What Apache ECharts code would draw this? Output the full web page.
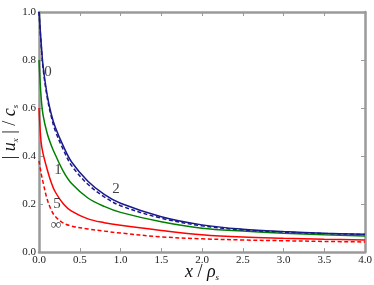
<!DOCTYPE html>
<html><head><meta charset="utf-8">
<script src="https://cdn.jsdelivr.net/npm/echarts@6/dist/echarts.min.js"></script>
<style>html,body{margin:0;padding:0;background:#fff}#c{width:374px;height:285px}</style>
</head><body><div id="c"></div>
<script>
const xs = [0, 0.025, 0.05, 0.1, 0.15, 0.2, 0.3, 0.4, 0.6, 0.8, 1.0, 1.5, 2.0, 2.5, 3.0, 3.5, 4.0];
const curve0 = [1.0, 0.88, 0.775, 0.655, 0.575, 0.52, 0.44, 0.375, 0.295, 0.24, 0.203, 0.147, 0.113, 0.095, 0.085, 0.078, 0.074];
const curve2 = [1.0, 0.87, 0.765, 0.645, 0.565, 0.505, 0.425, 0.36, 0.282, 0.23, 0.193, 0.141, 0.109, 0.092, 0.083, 0.077, 0.073];
const curve1 = [0.8, 0.65, 0.57, 0.495, 0.445, 0.405, 0.335, 0.285, 0.225, 0.19, 0.165, 0.126, 0.099, 0.087, 0.078, 0.072, 0.067];
const curve5 = [0.6, 0.46, 0.41, 0.345, 0.29, 0.25, 0.2, 0.17, 0.138, 0.122, 0.111, 0.09, 0.072, 0.062, 0.057, 0.053, 0.05];
const curveInf = [0.38, 0.33, 0.29, 0.22, 0.175, 0.148, 0.12, 0.108, 0.096, 0.087, 0.079, 0.063, 0.055, 0.05, 0.047, 0.044, 0.042];
const curveLabels = [
  {text: '0', x: 0.11, y: 0.75},
  {text: '1', x: 0.233, y: 0.342},
  {text: '2', x: 0.945, y: 0.263},
  {text: '5', x: 0.22, y: 0.2},
  {text: '\u221e', x: 0.21, y: 0.113}
];
const xTicks = ['0.0','0.5','1.0','1.5','2.0','2.5','3.0','3.5','4.0'];
const yTicks = ['0.0','0.2','0.4','0.6','0.8','1.0'];

const pair = arr => xs.map((x, i) => [x, arr[i]]);
const serif = 'Liberation Serif, DejaVu Serif, serif';
const axisGray = '#9a9a9a';
const chart = echarts.init(document.getElementById('c'));
const lineSeries = (data, color, dashed) => ({
  type: 'line', data: pair(data), smooth: 0.35, showSymbol: false, symbol: 'none',
  lineStyle: {color: color, width: 1.5, type: dashed ? [4, 2.5] : 'solid'}, z: 3, animation: false
});
const baseX = {
  type: 'value', min: 0, max: 4, interval: 0.5,
  axisLine: {show: true, onZero: false, lineStyle: {color: axisGray, width: 2.5}},
  axisTick: {show: true, inside: true, length: 4, lineStyle: {color: axisGray, width: 1}},
  splitLine: {show: false}
};
const baseY = {
  type: 'value', min: 0, max: 1, interval: 0.2,
  axisLine: {show: true, onZero: false, lineStyle: {color: axisGray, width: 2.5}},
  axisTick: {show: true, inside: true, length: 4, lineStyle: {color: axisGray, width: 1}},
  splitLine: {show: false}
};
chart.setOption({
  animation: false,
  backgroundColor: '#fff',
  grid: {left: 39, right: 9, top: 12, bottom: 33, containLabel: false, outerBoundsMode: 'none'},
  xAxis: [
    Object.assign({}, baseX, {
      position: 'bottom',
      axisLabel: {fontFamily: serif, fontSize: 11, color: '#222', margin: 3,
        formatter: v => xTicks[Math.round(v / 0.5)]},
      name: '{i|x}{n| / }{g|\u03c1}{s|s}', nameLocation: 'middle', nameGap: 10, nameMoveOverlap: false,
      nameTextStyle: {rich: {
        i: {fontFamily: serif, fontStyle: 'italic', fontSize: 18, lineHeight: 20, color: '#111', verticalAlign: 'middle'},
        n: {fontFamily: serif, fontSize: 18, lineHeight: 20, color: '#111', verticalAlign: 'middle'},
        g: {fontFamily: serif, fontStyle: 'italic', fontSize: 18, lineHeight: 20, color: '#111', verticalAlign: 'middle'},
        s: {fontFamily: serif, fontStyle: 'italic', fontSize: 9, lineHeight: 20, color: '#111', verticalAlign: 'bottom'}
      }}
    }),
    Object.assign({}, baseX, {position: 'top', axisLabel: {show: false}})
  ],
  yAxis: [
    Object.assign({}, baseY, {
      position: 'left',
      axisLabel: {fontFamily: serif, fontSize: 11, color: '#222', margin: 3,
        formatter: v => yTicks[Math.round(v / 0.2)]},
      name: '{n|| }{i|u}{s|x}{n| | / }{i|c}{s|s}', nameLocation: 'middle', nameGap: 19, nameRotate: 90,
      nameMoveOverlap: false,
      nameTextStyle: {rich: {
        i: {fontFamily: serif, fontStyle: 'italic', fontSize: 18, lineHeight: 20, color: '#111', verticalAlign: 'middle'},
        n: {fontFamily: serif, fontSize: 18, lineHeight: 20, color: '#111', verticalAlign: 'middle'},
        s: {fontFamily: serif, fontStyle: 'italic', fontSize: 9, lineHeight: 20, color: '#111', verticalAlign: 'bottom'}
      }}
    }),
    Object.assign({}, baseY, {position: 'right', axisLabel: {show: false}})
  ],
  series: [
    lineSeries(curveInf, '#ff0000', true),
    lineSeries(curve5, '#ff0000', false),
    lineSeries(curve1, '#008000', false),
    lineSeries(curve2, '#1a1a8c', true),
    lineSeries(curve0, '#1a1a8c', false),
    {
      type: 'scatter', symbolSize: 0, silent: true, z: 5,
      data: curveLabels.map(l => ({value: [l.x, l.y], name: l.text})),
      label: {show: true, position: 'inside', formatter: p => p.name,
        fontFamily: serif, fontSize: 15, color: '#111'}
    }
  ]
});
</script></body></html>
